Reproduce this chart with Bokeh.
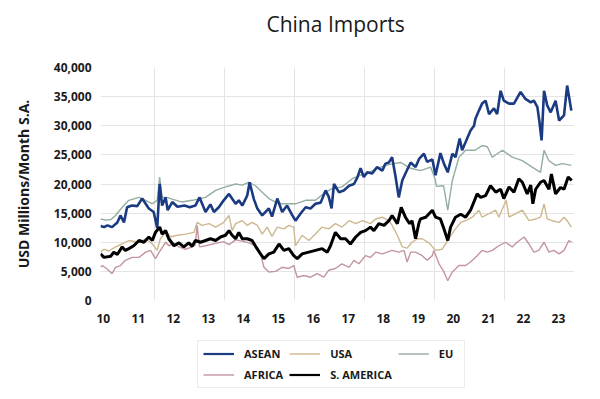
from bokeh.plotting import figure
from bokeh.layouts import column
from bokeh.models import (Range1d, FixedTicker, NumeralTickFormatter, CustomJSTickFormatter,
                          Legend, LegendItem, Label)
from bokeh.embed import file_html
from bokeh.resources import INLINE

# ---- data (decimal year, USD millions / month, S.A.) ----
asean_t = [2010.00, 2010.10, 2010.20, 2010.33, 2010.48, 2010.57, 2010.67, 2010.76, 2010.90, 2011.05,
           2011.19, 2011.38, 2011.52, 2011.62, 2011.69, 2011.76, 2011.86, 2011.92, 2012.05, 2012.20,
           2012.40, 2012.55, 2012.71, 2012.83, 2013.00, 2013.14, 2013.24, 2013.38, 2013.52, 2013.67,
           2013.86, 2013.95, 2014.05, 2014.19, 2014.26, 2014.38, 2014.48, 2014.62, 2014.81, 2014.90,
           2015.05, 2015.19, 2015.33, 2015.48, 2015.57, 2015.71, 2015.86, 2016.00, 2016.14, 2016.29,
           2016.43, 2016.52, 2016.60, 2016.67, 2016.81, 2016.95, 2017.10, 2017.24, 2017.33, 2017.43,
           2017.52, 2017.62, 2017.76, 2017.90, 2018.05, 2018.14, 2018.24, 2018.33, 2018.43, 2018.52,
           2018.62, 2018.71, 2018.86, 2019.00, 2019.10, 2019.24, 2019.33, 2019.48, 2019.57, 2019.71,
           2019.81, 2019.92, 2020.05, 2020.14, 2020.26, 2020.33, 2020.43, 2020.57, 2020.67, 2020.71,
           2020.81, 2020.90, 2021.00, 2021.10, 2021.24, 2021.33, 2021.43, 2021.52, 2021.67, 2021.81,
           2022.00, 2022.14, 2022.29, 2022.38, 2022.48, 2022.54, 2022.60, 2022.67, 2022.76, 2022.86,
           2023.00, 2023.10, 2023.24, 2023.33, 2023.45]
asean_v = [12800, 12600, 12900, 12600, 13400, 14600, 13400, 16000, 16300, 16200,
           17500, 15800, 15200, 12400, 20000, 16300, 17700, 15500, 16900, 16100,
           16300, 16000, 16300, 17700, 15200, 16500, 15200, 16000, 17200, 18300,
           16600, 17200, 16300, 18000, 20300, 17400, 15800, 14600, 15800, 14400,
           17500, 15200, 16300, 14600, 13700, 14900, 16000, 15800, 16600, 16800,
           18900, 17800, 15800, 20000, 18600, 18900, 19700, 20000, 21000, 22700,
           21200, 22000, 21800, 22900, 22300, 23500, 23700, 24600, 21200, 17700,
           20600, 21800, 23700, 22900, 24300, 25200, 23800, 24200, 21500, 25300,
           23500, 22000, 25200, 24600, 27800, 25800, 27200, 29200, 30000, 31200,
           32600, 33800, 34300, 32000, 33000, 32000, 36000, 34300, 33800, 33800,
           35800, 34600, 34000, 34300, 33200, 30600, 27500, 36000, 33500, 32300,
           34300, 30900, 31800, 36900, 32600]

eu_t = [2010.00, 2010.15, 2010.30, 2010.43, 2010.62, 2010.81, 2011.10, 2011.29, 2011.48, 2011.62,
        2011.69, 2011.76, 2011.90, 2012.05, 2012.33, 2012.62, 2013.00, 2013.29, 2013.57, 2013.86,
        2014.05, 2014.24, 2014.43, 2014.62, 2014.81, 2015.00, 2015.19, 2015.38, 2015.57, 2015.86,
        2016.14, 2016.43, 2016.62, 2016.90, 2017.19, 2017.43, 2017.62, 2017.86, 2018.14, 2018.38,
        2018.57, 2018.86, 2019.14, 2019.43, 2019.55, 2019.60, 2019.80, 2019.92, 2020.05, 2020.24,
        2020.43, 2020.70, 2020.90, 2021.05, 2021.19, 2021.48, 2021.76, 2022.05, 2022.33, 2022.57,
        2022.67, 2022.81, 2023.00, 2023.19, 2023.45]
eu_v = [14000, 13800, 13900, 14600, 16000, 17200, 17700, 17200, 16600, 17200,
        21200, 17700, 17700, 17400, 16900, 17200, 17700, 18900, 19500, 20000,
        19800, 20300, 19700, 18600, 17500, 16900, 16600, 16600, 16600, 17200,
        17200, 18600, 19200, 19500, 20900, 21500, 21800, 22600, 23200, 23500,
        23700, 22700, 22300, 22900, 21000, 19600, 19700, 15500, 20600, 24600,
        25800, 25800, 26600, 26400, 24600, 25800, 24600, 24000, 22900, 22000,
        25800, 24000, 23200, 23500, 23200]

usa_t = [2010.00, 2010.10, 2010.24, 2010.43, 2010.62, 2010.81, 2011.10, 2011.29, 2011.48, 2011.62,
         2011.71, 2011.81, 2011.90, 2012.00, 2012.19, 2012.43, 2012.67, 2012.76, 2012.90, 2013.10,
         2013.29, 2013.52, 2013.67, 2013.76, 2013.86, 2014.05, 2014.19, 2014.33, 2014.48, 2014.62,
         2014.76, 2014.90, 2015.05, 2015.24, 2015.38, 2015.52, 2015.57, 2015.76, 2015.95, 2016.14,
         2016.33, 2016.52, 2016.71, 2016.90, 2017.10, 2017.29, 2017.48, 2017.71, 2017.86, 2018.05,
         2018.24, 2018.33, 2018.48, 2018.62, 2018.76, 2018.90, 2019.05, 2019.19, 2019.38, 2019.57,
         2019.76, 2019.92, 2020.10, 2020.29, 2020.43, 2020.62, 2020.81, 2020.90, 2021.10, 2021.29,
         2021.38, 2021.48, 2021.59, 2021.67, 2021.86, 2022.05, 2022.24, 2022.43, 2022.57, 2022.67,
         2022.76, 2022.90, 2023.10, 2023.24, 2023.33, 2023.45]
usa_v = [8300, 8800, 8500, 9200, 9700, 10300, 10000, 10600, 9700, 8600,
         10600, 11400, 11700, 10900, 11200, 11400, 11700, 13400, 12900, 13200,
         12600, 13400, 14600, 12000, 13200, 13700, 12900, 13400, 12900, 11400,
         12600, 11000, 12600, 12300, 12900, 12600, 9400, 11200, 10300, 11400,
         12600, 12300, 13200, 12600, 13700, 13200, 13700, 13200, 14000, 14300,
         13700, 12900, 11200, 9200, 9000, 10000, 10600, 10600, 9900, 8600,
         8800, 10300, 12000, 13400, 13700, 14300, 15500, 14300, 14900, 15500,
         14300, 15700, 17200, 14300, 14900, 15500, 13700, 14000, 14300, 16600,
         14000, 13700, 13400, 14300, 13700, 12600]

africa_t = [2010.00, 2010.05, 2010.19, 2010.33, 2010.43, 2010.57, 2010.71, 2010.90, 2011.10, 2011.29,
            2011.43, 2011.57, 2011.71, 2011.86, 2011.95, 2012.10, 2012.24, 2012.43, 2012.62, 2012.71,
            2012.76, 2012.83, 2013.00, 2013.29, 2013.52, 2013.67, 2013.86, 2014.05, 2014.24, 2014.38,
            2014.48, 2014.57, 2014.67, 2014.81, 2015.00, 2015.19, 2015.38, 2015.52, 2015.62, 2015.81,
            2016.00, 2016.19, 2016.38, 2016.52, 2016.71, 2016.90, 2017.10, 2017.24, 2017.38, 2017.57,
            2017.71, 2017.86, 2018.05, 2018.19, 2018.33, 2018.52, 2018.67, 2018.76, 2018.86, 2019.00,
            2019.19, 2019.33, 2019.48, 2019.52, 2019.67, 2019.81, 2019.92, 2020.05, 2020.24, 2020.43,
            2020.57, 2020.76, 2020.90, 2021.05, 2021.19, 2021.38, 2021.57, 2021.76, 2021.90, 2022.10,
            2022.24, 2022.38, 2022.52, 2022.67, 2022.81, 2022.95, 2023.10, 2023.24, 2023.38, 2023.46]
africa_v = [5700, 6000, 5400, 4600, 5700, 6000, 6900, 7400, 7400, 8300,
            8600, 7200, 8600, 10000, 9400, 9800, 9200, 8800, 9200, 9600,
            12900, 9200, 9400, 9800, 10100, 9600, 10400, 10200, 9900, 9500,
            8900, 8000, 5700, 4900, 5000, 5700, 5500, 6000, 4000, 4300,
            4000, 4600, 4000, 5200, 5500, 6300, 5700, 6900, 6300, 7700,
            7400, 8300, 8000, 8300, 8600, 8300, 8600, 6600, 8300, 8300,
            7700, 6900, 7700, 8600, 6300, 4900, 3400, 4900, 6000, 6000,
            6600, 7700, 8600, 8300, 8600, 9400, 10000, 9200, 10000, 10900,
            9700, 8300, 8600, 10000, 8300, 8600, 8000, 8600, 10300, 10000]

sam_t = [2010.00, 2010.10, 2010.29, 2010.38, 2010.48, 2010.62, 2010.71, 2010.81, 2010.95, 2011.10,
         2011.24, 2011.38, 2011.48, 2011.57, 2011.69, 2011.76, 2011.86, 2011.95, 2012.10, 2012.24,
         2012.38, 2012.52, 2012.62, 2012.71, 2012.86, 2013.00, 2013.14, 2013.29, 2013.43, 2013.57,
         2013.67, 2013.76, 2013.86, 2013.95, 2014.05, 2014.19, 2014.33, 2014.43, 2014.57, 2014.67,
         2014.81, 2014.95, 2015.10, 2015.24, 2015.38, 2015.52, 2015.62, 2015.76, 2015.95, 2016.14,
         2016.33, 2016.48, 2016.57, 2016.71, 2016.86, 2017.00, 2017.14, 2017.29, 2017.43, 2017.57,
         2017.71, 2017.81, 2017.95, 2018.10, 2018.24, 2018.33, 2018.48, 2018.59, 2018.71, 2018.83,
         2018.90, 2019.00, 2019.10, 2019.14, 2019.29, 2019.48, 2019.57, 2019.71, 2019.81, 2019.92,
         2020.00, 2020.14, 2020.29, 2020.43, 2020.57, 2020.76, 2020.86, 2021.00, 2021.14, 2021.29,
         2021.43, 2021.52, 2021.67, 2021.81, 2021.95, 2022.05, 2022.19, 2022.29, 2022.35, 2022.43,
         2022.57, 2022.67, 2022.81, 2022.88, 2023.00, 2023.14, 2023.24, 2023.36, 2023.46]
sam_v = [8000, 7400, 7600, 8300, 7900, 9200, 8600, 8900, 9400, 10300,
         10000, 10900, 10300, 11700, 12600, 11400, 12000, 10600, 9400, 9900,
         9200, 9900, 9300, 10300, 10000, 10300, 10600, 10300, 10900, 11200,
         12000, 11200, 10600, 11700, 10600, 10600, 10300, 9300, 8000, 7200,
         8000, 8300, 9700, 8600, 8900, 7700, 7200, 8000, 8300, 8600,
         8900, 8300, 9400, 11700, 10600, 10600, 9700, 10900, 11700, 12000,
         12600, 12000, 13200, 12900, 13700, 14600, 13200, 16000, 14300, 13200,
         13700, 10600, 13400, 14000, 14300, 15500, 14300, 14000, 12300, 10300,
         12600, 14300, 14800, 14300, 15500, 18300, 17700, 18000, 19700, 18600,
         19100, 17500, 19500, 18600, 20900, 20300, 18300, 19800, 16600, 19100,
         20300, 20600, 19100, 21700, 18300, 19400, 19100, 21200, 20600]

years = list(range(2010, 2024))
y_ticks = [0, 5000, 10000, 15000, 20000, 25000, 30000, 35000, 40000]
legend_names = ["ASEAN", "USA", "EU", "AFRICA", "S. AMERICA"]
title_text = "China Imports"

FONT = "Open Sans"
TXT = "#1a1a1a"
C_ASEAN, C_USA, C_EU, C_AFR, C_SAM = "#1a3a82", "#cdb88f", "#93ad9f", "#c3959e", "#000000"
W_ASEAN, W_THIN, W_SAM = 2.6, 1.4, 3


def strip(height):
    f = figure(width=584, height=height, output_backend="svg", toolbar_location=None,
               x_range=Range1d(0, 1), y_range=Range1d(0, 1), x_axis_type=None, y_axis_type=None,
               min_border=0)
    f.outline_line_color = None
    f.grid.visible = False
    return f


# ---- title strip ----
hd = strip(57)
hd.add_layout(Label(x=0.496, y=34, y_units="screen", text=title_text, text_align="center",
                    text_baseline="middle", text_font=FONT, text_font_size="21px",
                    text_color=TXT))

# ---- main chart ----
p = figure(width=584, height=273, output_backend="svg", toolbar_location=None,
           x_range=Range1d(2010.0, 2023.54), y_range=Range1d(0, 40000),
           min_border_left=100, min_border_right=10, min_border_top=10, min_border_bottom=30)
p.outline_line_color = None
p.background_fill_color = "white"

p.yaxis.ticker = FixedTicker(ticks=y_ticks)
p.yaxis.formatter = NumeralTickFormatter(format="0,0")
p.xaxis.ticker = FixedTicker(ticks=[y + 0.08 for y in years])
p.xaxis.formatter = CustomJSTickFormatter(code="return String(Math.floor(tick) % 100).padStart(2, '0');")
for ax in (p.xaxis[0], p.yaxis[0]):
    ax.axis_line_color = None
    ax.major_tick_line_color = None
    ax.minor_tick_line_color = None
    ax.major_label_text_font = FONT
    ax.major_label_text_font_size = "12px"
    ax.major_label_text_font_style = "bold"
    ax.major_label_text_color = TXT
p.yaxis.major_label_standoff = 3
p.xaxis.major_label_standoff = 7
p.yaxis.axis_label = "USD Millions/Month S.A."
p.yaxis.axis_label_text_font = FONT
p.yaxis.axis_label_text_font_size = "14px"
p.yaxis.axis_label_text_font_style = "bold"
p.yaxis.axis_label_text_color = TXT
p.yaxis.axis_label_standoff = 18

p.ygrid.grid_line_color = "#e4e4e4"
p.xgrid.grid_line_color = "#e4e4e4"
p.xgrid.ticker = FixedTicker(ticks=[2011.55, 2013.55, 2015.55, 2017.55, 2019.55, 2021.55])

p.line(eu_t, eu_v, line_color=C_EU, line_width=W_THIN)
p.line(usa_t, usa_v, line_color=C_USA, line_width=W_THIN)
p.line(africa_t, africa_v, line_color=C_AFR, line_width=W_THIN)
p.line(asean_t, asean_v, line_color=C_ASEAN, line_width=W_ASEAN)
p.line(sam_t, sam_v, line_color=C_SAM, line_width=W_SAM)

# ---- legend strip (series drawn outside its view, only their legend keys show) ----
lg = strip(60)
k_as = lg.line(asean_t, asean_v, line_color=C_ASEAN, line_width=2.2)
k_us = lg.line(usa_t, usa_v, line_color=C_USA, line_width=W_THIN)
k_eu = lg.line(eu_t, eu_v, line_color=C_EU, line_width=W_THIN)
k_af = lg.line(africa_t, africa_v, line_color=C_AFR, line_width=W_THIN)
k_sa = lg.line(sam_t, sam_v, line_color=C_SAM, line_width=2.2)

legend = Legend(items=[LegendItem(label=legend_names[0], renderers=[k_as]),
                       LegendItem(label=legend_names[1], renderers=[k_us]),
                       LegendItem(label=legend_names[2], renderers=[k_eu]),
                       LegendItem(label=legend_names[3], renderers=[k_af]),
                       LegendItem(label=legend_names[4], renderers=[k_sa])],
                location=(97, 2), orientation="horizontal", ncols=3)
legend.label_text_font = FONT
legend.label_text_font_size = "11px"
legend.label_text_font_style = "bold"
legend.label_text_color = TXT
legend.glyph_width = 31
legend.glyph_height = 13
legend.label_height = 13
legend.label_standoff = 10
legend.spacing = 6
legend.padding = 5
legend.margin = 0
legend.border_line_color = "#dadada"
legend.border_line_width = 1
legend.background_fill_color = "white"
legend.background_fill_alpha = 1
lg.add_layout(legend, "center")

page = column(hd, p, lg, spacing=0)
open("out.html", "w").write(file_html(page, INLINE))
